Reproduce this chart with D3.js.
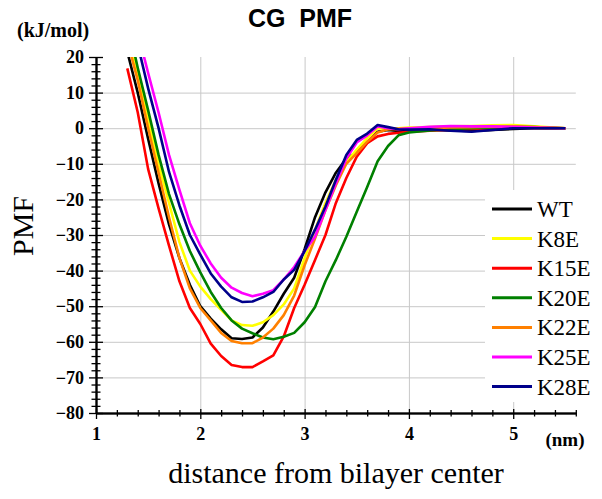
<!DOCTYPE html>
<html>
<head>
<meta charset="utf-8">
<script src="https://cdn.jsdelivr.net/npm/d3@7"></script>
<style>
  body { margin: 0; background: #fff; }
  svg { display: block; }
  .serif { font-family: "Liberation Serif", "Times New Roman", Times, serif; }
  .bserif { font-family: "Liberation Serif", "Times New Roman", Times, serif; font-weight: bold; }
</style>
</head>
<body>
<div id="chart"></div>
<script>
// distance from bilayer center (nm)
var dist = [1.3, 1.4, 1.5, 1.6, 1.7, 1.8, 1.9, 2.0, 2.1, 2.2, 2.3, 2.4, 2.5, 2.6, 2.7, 2.8, 2.9,
            3.0, 3.1, 3.2, 3.3, 3.4, 3.5, 3.6, 3.7, 3.8, 3.9, 4.0, 4.2, 4.4, 4.6, 4.8, 5.0, 5.2, 5.5];

var seriesNames = ["WT", "K8E", "K15E", "K20E", "K22E", "K25E", "K28E"];
var seriesColors = ["#000000", "#ffff00", "#ff0000", "#008000", "#ff8000", "#ff00ff", "#00008b"];

var pmfWT   = [21.5, 10, -3, -15.5, -27, -36.5, -44, -50, -53.5, -56.5, -59, -59.2, -58.8, -56, -51.5, -46.5, -42,
               -34, -25, -18, -12.5, -8.5, -6.8, -4, -1, -0.5, -0.8, -0.5, -0.4, -0.6, -0.8, -0.5, -0.2, 0, 0];
var pmfK8E  = [27, 15, 2.5, -10, -21, -32, -40, -44.5, -48, -51, -54, -55.3, -55.5, -54.5, -52.5, -49.5, -45,
               -36.5, -28.5, -21, -14.5, -9.5, -6, -2.8, 0, -0.2, 0, 0.2, 0.3, 0.5, 0.6, 0.8, 0.9, 0.5, 0];
var pmfK15E = [16.8, 4.5, -11.5, -22.5, -33, -43, -50.5, -55, -60.5, -64, -66.5, -67.1, -67.1, -65.5, -63.8, -58.5, -50.5,
               -44, -37, -30, -21, -14, -8, -4.2, -2.3, -1.6, -1.3, -1.0, -0.7, -0.4, -0.2, 0, 0.2, 0.1, 0];
var pmfK20E = [30, 17, 5, -7.5, -18.5, -27, -34.5, -40.5, -46, -50.5, -54, -56.3, -57.6, -58.8, -59.3, -58.6, -57.5,
               -54.5, -50.2, -43, -37, -30.5, -23.5, -16.5, -9.3, -5, -2, -1.2, -0.6, -0.3, 0, 0.2, 0.4, 0.3, 0];
var pmfK22E = [24.5, 13.5, 0, -12.5, -25, -36.5, -45, -50.5, -54, -57.5, -59.8, -60.4, -60.4, -58.8, -56.3, -52.5, -47,
               -38.5, -31, -23, -16, -10, -7, -3.8, -1.2, -0.3, -0.2, 0, 0, 0.2, 0.3, 0.4, 0.5, 0.3, 0];
var pmfK25E = [42, 27, 15.5, 4.4, -7.5, -17.3, -26.7, -33, -38, -42, -44.8, -46.3, -47.2, -46.5, -45.5, -42.5, -39,
               -34.5, -30.5, -23, -15.5, -8.5, -4, -2, 0.5, 0, -0.3, 0, 0.4, 0.6, 0.5, 0.5, 0.4, 0.2, 0];
var pmfK28E = [36, 23.5, 11.2, 0, -12.3, -21.7, -30, -35.5, -40.8, -44.5, -47.5, -48.8, -48.7, -47.5, -46, -42.5, -39.8,
               -34.5, -28.5, -22, -14.5, -7.5, -3.3, -1.5, 0.9, 0.3, -0.3, -0.4, -0.3, -0.7, -1, -0.5, 0, 0, 0];

var pmfAll = [pmfWT, pmfK8E, pmfK15E, pmfK20E, pmfK22E, pmfK25E, pmfK28E];

var xMajor = [1, 2, 3, 4, 5];
var yMajor = [20, 10, 0, -10, -20, -30, -40, -50, -60, -70, -80];

var W = 602, H = 499;
var x = d3.scaleLinear().domain([1, 5.6]).range([96, 575.8]);
var y = d3.scaleLinear().domain([-80, 20]).range([413, 57]);

var svg = d3.select("#chart").append("svg")
    .attr("width", W)
    .attr("height", H);

// minor tick positions
var xMinor = d3.range(1, 5.61, 0.2).map(function (v) { return +v.toFixed(1); })
    .filter(function (v) { return xMajor.indexOf(v) < 0; });
var yMinor = d3.range(-80, 20.1, 2).filter(function (v) { return v % 10 !== 0; });

// grid
svg.append("g")
    .attr("transform", "translate(96,0)")
    .call(d3.axisLeft(y).tickValues(yMajor.filter(function (v) { return v > -80 && v < 20; }))
        .tickSize(-(575.8 - 96)).tickFormat(""))
    .call(function (g) {
        g.select(".domain").remove();
        g.selectAll("line").attr("stroke", "#c8c8c8").attr("stroke-width", 1);
    });
svg.append("g")
    .attr("transform", "translate(0,413)")
    .call(d3.axisBottom(x).tickValues([2, 3, 4, 5]).tickSize(-(413 - 57)).tickFormat(""))
    .call(function (g) {
        g.select(".domain").remove();
        g.selectAll("line").attr("stroke", "#c8c8c8").attr("stroke-width", 1);
    });

// curves
svg.append("clipPath").attr("id", "plotclip")
    .append("rect").attr("x", 96).attr("y", 57).attr("width", 575.8 - 96).attr("height", 413 - 57);

var line = d3.line()
    .x(function (d) { return x(d[0]); })
    .y(function (d) { return y(d[1]); });

var curves = svg.append("g").attr("clip-path", "url(#plotclip)");
pmfAll.forEach(function (vals, i) {
    curves.append("path")
        .datum(dist.map(function (dd, j) { return [dd, vals[j]]; }))
        .attr("d", line)
        .attr("fill", "none")
        .attr("stroke", seriesColors[i])
        .attr("stroke-width", 2.6)
        .attr("stroke-linejoin", "round");
});

// axes with ticks crossing both sides
function styleAxis(g) {
    g.selectAll("line").attr("stroke", "#000").attr("stroke-width", 1.3);
    g.select(".domain").attr("stroke", "#000").attr("stroke-width", 1.5);
}
svg.append("g").attr("transform", "translate(96,0)")
    .call(d3.axisLeft(y).tickValues(yMinor).tickSize(4.5).tickSizeOuter(0).tickFormat(""))
    .call(styleAxis);
svg.append("g").attr("transform", "translate(96,0)")
    .call(d3.axisRight(y).tickValues(yMinor).tickSize(4.5).tickSizeOuter(0).tickFormat(""))
    .call(styleAxis);
svg.append("g").attr("transform", "translate(96,0)")
    .call(d3.axisRight(y).tickValues(yMajor).tickSize(7).tickSizeOuter(0).tickFormat(""))
    .call(styleAxis);
var yAxis = svg.append("g").attr("transform", "translate(96,0)")
    .call(d3.axisLeft(y).tickValues(yMajor).tickSize(7).tickSizeOuter(0).tickPadding(5)
        .tickFormat(d3.format("d")))
    .call(styleAxis);
yAxis.attr("font-family", null);
yAxis.selectAll("text")
    .attr("class", "bserif")
    .attr("font-size", 18)
    .attr("fill", "#000");

svg.append("g").attr("transform", "translate(0,413)")
    .call(d3.axisBottom(x).tickValues(xMinor).tickSize(3.5).tickSizeOuter(0).tickFormat(""))
    .call(styleAxis);
svg.append("g").attr("transform", "translate(0,413)")
    .call(d3.axisTop(x).tickValues(xMinor).tickSize(3).tickSizeOuter(0).tickFormat(""))
    .call(styleAxis);
svg.append("g").attr("transform", "translate(0,413)")
    .call(d3.axisTop(x).tickValues(xMajor).tickSize(4).tickSizeOuter(0).tickFormat(""))
    .call(styleAxis);
var xAxis = svg.append("g").attr("transform", "translate(0,413)")
    .call(d3.axisBottom(x).tickValues(xMajor).tickSize(6).tickSizeOuter(0).tickPadding(8)
        .tickFormat(d3.format("d")))
    .call(styleAxis);
xAxis.attr("font-family", null);
xAxis.selectAll("text")
    .attr("class", "bserif")
    .attr("font-size", 18)
    .attr("fill", "#000");

// legend
var legend = svg.append("g");
legend.append("rect")
    .attr("x", 485).attr("y", 190).attr("width", 115).attr("height", 212)
    .attr("fill", "#fff");
seriesNames.forEach(function (name, i) {
    var ly = 209 + i * 29.6;
    legend.append("line")
        .attr("x1", 492).attr("x2", 532).attr("y1", ly).attr("y2", ly)
        .attr("stroke", seriesColors[i]).attr("stroke-width", 3);
    legend.append("text")
        .attr("class", "serif")
        .attr("x", 537).attr("y", ly + 8)
        .attr("font-size", 23)
        .text(name);
});

// titles and labels
svg.append("text")
    .attr("x", 300).attr("y", 27)
    .attr("text-anchor", "middle")
    .attr("font-family", "Liberation Sans, Arial, sans-serif")
    .attr("font-weight", "bold")
    .attr("font-size", 25)
    .attr("xml:space", "preserve")
    .text("CG  PMF");

svg.append("text")
    .attr("class", "bserif")
    .attr("x", 17).attr("y", 37)
    .attr("font-size", 20)
    .text("(kJ/mol)");

svg.append("text")
    .attr("class", "serif")
    .attr("transform", "translate(33,226) rotate(-90)")
    .attr("text-anchor", "middle")
    .attr("font-size", 30)
    .text("PMF");

svg.append("text")
    .attr("class", "bserif")
    .attr("x", 565).attr("y", 446)
    .attr("text-anchor", "middle")
    .attr("font-size", 19)
    .text("(nm)");

svg.append("text")
    .attr("class", "serif")
    .attr("x", 336).attr("y", 483)
    .attr("text-anchor", "middle")
    .attr("font-size", 30)
    .text("distance from bilayer center");
</script>
</body>
</html>
